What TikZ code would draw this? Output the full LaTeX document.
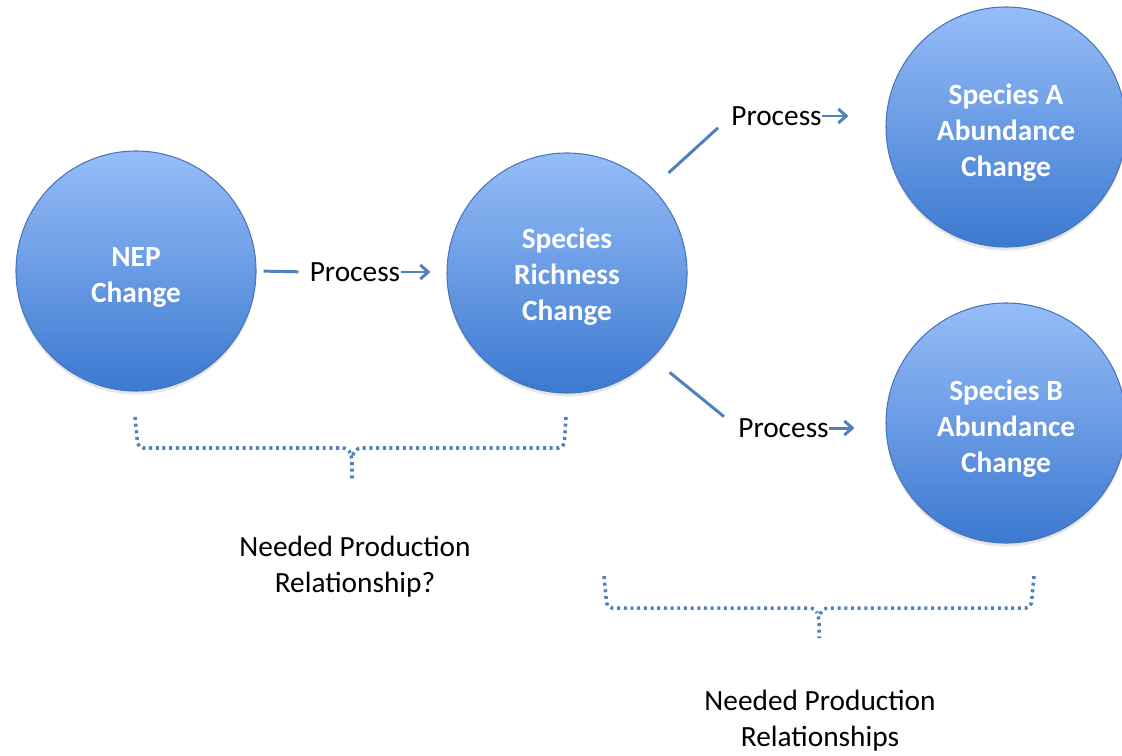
\documentclass[tikz,border=0pt]{standalone}
\usepackage{fontspec}
\setmainfont{Carlito}
\usetikzlibrary{arrows.meta}
\usetikzlibrary{shadows}
\usetikzlibrary{positioning}

\definecolor{bubbletop}{RGB}{150,189,248}
\definecolor{bubblebottom}{RGB}{60,121,208}
\definecolor{bubbleedge}{RGB}{72,117,186}
\definecolor{linkblue}{RGB}{79,129,189}

\tikzset{
  bubble/.style={circle, minimum size=4.8cm, inner sep=0pt, draw=bubbleedge,
    line width=0.6pt, top color=bubbletop, bottom color=bubblebottom,
    drop shadow={opacity=0.2, shadow xshift=0pt, shadow yshift=-2pt}},
  bubbletext/.style={text=white, align=center, inner sep=0pt,
    font=\bfseries\fontsize{16.7}{20.5}\selectfont},
  proc/.style={inner sep=0pt, font=\fontsize{16.7}{20.5}\selectfont},
  note/.style={align=center, font=\fontsize{16.7}{20.5}\selectfont},
  link/.style={draw=linkblue, line width=1.7pt},
  flow/.style={link, -{Straight Barb[length=4.5pt, width=8pt]}},
  bracket/.style={draw=linkblue, line width=2pt, dash pattern=on 1.7pt off 2.1pt,
    rounded corners=3pt}
}

\begin{document}
\begin{tikzpicture}
  \useasboundingbox (0, 0) rectangle (22.44, -15.1);

  \node [bubble] (nep) at (2.72, -5.42) {};
  \node [bubble] (rich) at (11.34, -5.46) {};
  \node [bubble] (spa) at (20.12, -2.54) {};
  \node [bubble] (spb) at (20.12, -8.46) {};

  \node [bubbletext] (neptext) at ([yshift=-0.12cm]nep) {NEP\\Change};
  \node [bubbletext] (richtext) at ([yshift=-0.08cm]rich) {Species\\Richness\\Change};
  \node [bubbletext] (spatext) at ([yshift=-0.12cm]spa) {Species A\\Abundance\\Change};
  \node [bubbletext] (spbtext) at ([yshift=-0.12cm]spb) {Species B\\Abundance\\Change};

  \node [proc] (p1) at (7.1, -5.44) {Process};
  \node [proc] (pa) at (15.53, -2.32) {Process};
  \node [proc] (pb) at (15.67, -8.56) {Process};

  \draw [link, shorten <=0.14cm, shorten >=0.22cm] (nep.east) -- (p1.west);
  \draw [flow, shorten >=0.32cm] (p1.east) -- (p1.east -| rich.west);

  \draw [link, shorten <=0.44cm, shorten >=0.35cm] (rich.45) -- (pa.west);
  \draw [flow, shorten >=0.74cm] (pa.east) -- (pa.east -| spa.west);

  \draw [link, shorten <=0.45cm, shorten >=0.36cm] (rich.-45) -- (pb.west);
  \draw [flow, shorten >=0.62cm] (pb.east) -- (pb.east -| spb.west);

  % brackets
  \draw [bracket] (2.7, -8.34) -- (2.76, -8.96) -- (6.96, -8.96) -- (7.04, -9.14) -- (7.04, -9.6);
  \draw [bracket] (11.32, -8.34) -- (11.28, -8.96) -- (7.12, -8.96) -- (7.04, -9.14);

  \draw [bracket] (12.08, -11.52) -- (12.14, -12.16) -- (16.3, -12.16) -- (16.38, -12.34) -- (16.38, -12.76);
  \draw [bracket] (20.68, -11.52) -- (20.62, -12.16) -- (16.46, -12.16) -- (16.38, -12.34);

  \node [note] (need1) at (7.1, -11.34) {Needed Production\\Relationship?};
  \node [note] (need2) at (16.4, -14.42) {Needed Production\\Relationships};
\end{tikzpicture}
\end{document}
